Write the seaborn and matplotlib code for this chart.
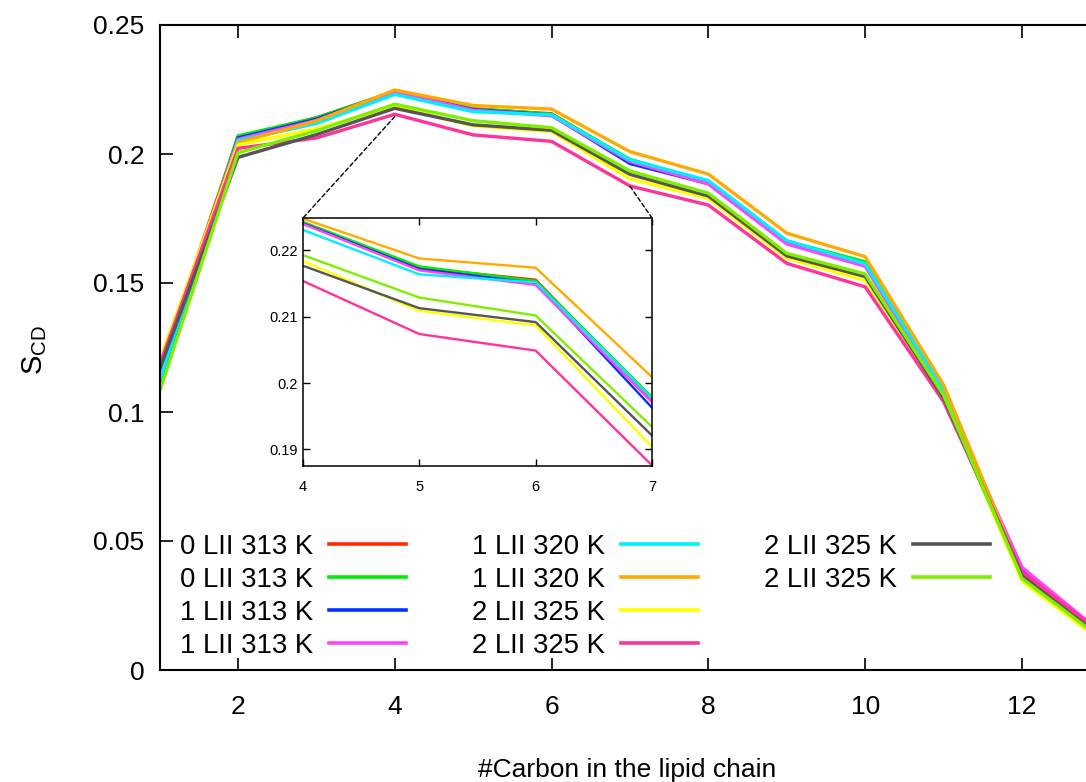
import matplotlib
matplotlib.use("Agg")
import matplotlib.pyplot as plt
import seaborn as sns
from matplotlib.lines import Line2D
from matplotlib.patches import ConnectionPatch

plt.rcParams['font.family'] = ['Liberation Sans', 'DejaVu Sans']
plt.rcParams['mathtext.fontset'] = 'custom'
plt.rcParams['mathtext.rm'] = 'Liberation Sans'
plt.rcParams['mathtext.it'] = 'Liberation Sans:italic'

# ---------------- data ----------------
carbon = list(range(1, 14))

labels = ["0 LII 313 K", "0 LII 313 K", "1 LII 313 K", "1 LII 313 K",
          "1 LII 320 K", "1 LII 320 K", "2 LII 325 K", "2 LII 325 K",
          "2 LII 325 K", "2 LII 325 K"]
colors = ["#ff2a00", "#00ee00", "#0033ff", "#ff44ff", "#00eeff",
          "#ffaa00", "#ffff00", "#ff3399", "#555555", "#80ee00"]

s_red     = [0.1170, 0.2065, 0.2140, 0.2242, 0.2174, 0.2156, 0.1975, 0.1892, 0.1660, 0.1580, 0.1075, 0.0370, 0.0135]
s_green   = [0.1130, 0.2070, 0.2140, 0.2243, 0.2176, 0.2154, 0.1979, 0.1893, 0.1662, 0.1582, 0.1078, 0.0365, 0.0130]
s_blue    = [0.1110, 0.2062, 0.2135, 0.2241, 0.2172, 0.2151, 0.1963, 0.1885, 0.1655, 0.1570, 0.1070, 0.0385, 0.0145]
s_magenta = [0.1150, 0.2057, 0.2130, 0.2240, 0.2170, 0.2148, 0.1971, 0.1884, 0.1651, 0.1565, 0.1068, 0.0398, 0.0148]
s_cyan    = [0.1120, 0.2052, 0.2118, 0.2231, 0.2164, 0.2152, 0.1977, 0.1897, 0.1664, 0.1575, 0.1085, 0.0370, 0.0140]
s_orange  = [0.1175, 0.2044, 0.2128, 0.2248, 0.2188, 0.2174, 0.2009, 0.1922, 0.1693, 0.1602, 0.1105, 0.0372, 0.0138]
s_yellow  = [0.1200, 0.2035, 0.2098, 0.2184, 0.2109, 0.2087, 0.1904, 0.1828, 0.1596, 0.1510, 0.1060, 0.0345, 0.0115]
s_pink    = [0.1182, 0.2022, 0.2062, 0.2154, 0.2074, 0.2049, 0.1876, 0.1802, 0.1576, 0.1485, 0.1040, 0.0380, 0.0145]
s_gray    = [0.1165, 0.1987, 0.2075, 0.2177, 0.2113, 0.2092, 0.1921, 0.1837, 0.1605, 0.1525, 0.1055, 0.0365, 0.0130]
s_lime    = [0.1079, 0.2005, 0.2090, 0.2193, 0.2129, 0.2102, 0.1934, 0.1848, 0.1615, 0.1535, 0.1065, 0.0355, 0.0125]

series = [s_red, s_green, s_blue, s_magenta, s_cyan,
          s_orange, s_yellow, s_pink, s_gray, s_lime]

main_xticks = [2, 4, 6, 8, 10, 12]
main_yticks = [0, 0.05, 0.1, 0.15, 0.2, 0.25]
main_yticklabels = ["0", "0.05", "0.1", "0.15", "0.2", "0.25"]
inset_xticks = [4, 5, 6, 7]
inset_yticks = [0.19, 0.2, 0.21, 0.22]
inset_yticklabels = ["0.19", "0.2", "0.21", "0.22"]
inset_xlim = (4, 7)
inset_ylim = (0.1875, 0.2249)
connector_left = (4, 0.2145)
connector_right = (7, 0.1875)

# ---------------- figure ----------------
W, H = 1086, 782
fig = plt.figure(figsize=(W / 100, H / 100), dpi=100)
fig.patch.set_facecolor("white")

ax = fig.add_axes([159.6 / W, 1 - 670 / H, 940.8 / W, 645 / H])
for vals, c, lab in zip(series, colors, labels):
    sns.lineplot(x=carbon, y=vals, color=c, lw=2.4, ax=ax, label=lab,
                 legend=False)

ax.set_xlim(1, 13)
ax.set_ylim(0, 0.25)
ax.set_xticks(main_xticks)
ax.set_xticklabels([str(t) for t in main_xticks])
ax.set_yticks(main_yticks)
ax.set_yticklabels(main_yticklabels)
ax.tick_params(direction="in", length=9, width=1.2, top=True, right=True,
               labelsize=19, colors="black")
ax.tick_params(axis="x", pad=18)
ax.tick_params(axis="y", pad=11)
for sp in ax.spines.values():
    sp.set_linewidth(1.5)
    sp.set_color("black")

ax.set_xlabel("#Carbon in the lipid chain", fontsize=19)
ax.xaxis.set_label_coords((627 - 159.6) / 940.8, (670 - 758) / 645)
ax.set_ylabel(r"S$_{\mathrm{CD}}$", fontsize=21)
ax.yaxis.set_label_coords((49 - 159.6) / 940.8, (670 - 350) / 645)

# legend (gnuplot-like: text then line sample)
handles = [Line2D([], [], color=c, lw=2.6) for c in colors]
leg_labels = list(labels)
handles += [Line2D([], [], color="none")] * 2
leg_labels += ["", ""]
ax.legend(handles, leg_labels, ncol=3, loc="upper left",
          bbox_to_anchor=(180 / W, 1 - 534 / H), bbox_transform=fig.transFigure,
          frameon=False, markerfirst=False, fontsize=19.8,
          handlelength=2.8, handletextpad=0.58, columnspacing=2.4,
          labelspacing=0.25, borderpad=0, borderaxespad=0)

# ---------------- inset ----------------
ins = fig.add_axes([303 / W, 1 - 466 / H, 349 / W, 248 / H])
ins.set_facecolor("white")
for vals, c in zip(series, colors):
    sns.lineplot(x=carbon, y=vals, color=c, lw=1.7, ax=ins, legend=False)
ins.set_xlim(*inset_xlim)
ins.set_ylim(*inset_ylim)
ins.set_xticks(inset_xticks)
ins.set_xticklabels([str(t) for t in inset_xticks])
ins.set_yticks(inset_yticks)
ins.set_yticklabels(inset_yticklabels)
ins.tick_params(direction="in", length=5, width=1.0, top=True, right=True,
                labelsize=10.5, colors="black")
ins.tick_params(axis="x", pad=10)
ins.tick_params(axis="y", pad=4)
ins.set_xlabel("")
ins.set_ylabel("")
for sp in ins.spines.values():
    sp.set_linewidth(1.1)
    sp.set_color("black")

for xyA, xyB in [(connector_left, (0, 1)), (connector_right, (1, 1))]:
    con = ConnectionPatch(xyA=xyA, coordsA=ax.transData,
                          xyB=xyB, coordsB=ins.transAxes,
                          linestyle=(0, (3, 2)), color="black", lw=1.0)
    fig.add_artist(con)

fig.savefig("out.png", dpi=100, facecolor="white")
